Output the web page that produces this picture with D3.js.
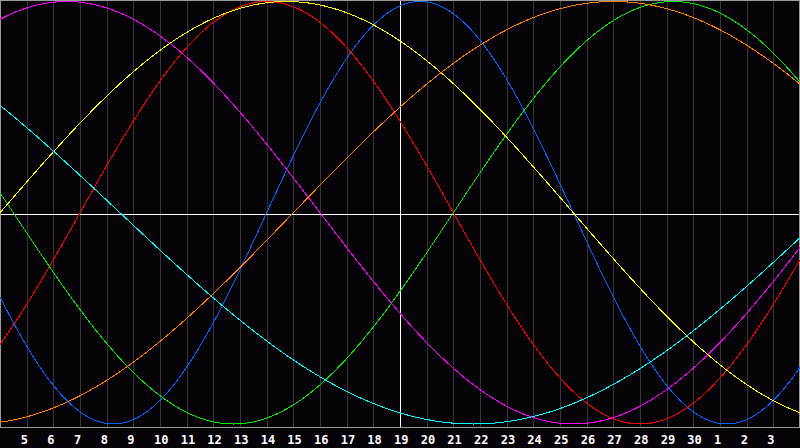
<!DOCTYPE html>
<html>
<head>
<meta charset="utf-8">
<script src="https://cdn.jsdelivr.net/npm/d3@7/dist/d3.min.js"></script>
<style>
  html, body { margin: 0; padding: 0; background: #050308; }
  svg { display: block; }
</style>
</head>
<body>
<svg id="chart" width="800" height="448"></svg>
<script>
// Day labels at the gridlines (offset 1..29 days from left edge)
const dayLabels = ["5","6","7","8","9","10","11","12","13","14","15","16","17","18","19","20","21","22","23","24","25","26","27","28","29","30","1","2","3"];
const todayLabel = "19";

// Cycle series: period in days, and cycle day at the left edge of the chart
const seriesNames   = ["Physical","Emotional","Intellectual","Intuitive","Aesthetic","Awareness","Spiritual"];
const seriesPeriods = [23, 28, 33, 38, 43, 48, 53];
const seriesPhase   = [13, 25, 16, 7, 0, 37, 22];
const seriesColors  = ["#0066ff","#ff0000","#00ee00","#ff00ff","#ffff00","#ff8000","#00ffff"];

const totalDays = 30;
const W = 800, H = 448;
const svg = d3.select("#chart");

svg.append("rect").attr("x",0).attr("y",0).attr("width",W).attr("height",H).attr("fill","#050308");

const x = d3.scaleLinear().domain([0, totalDays]).range([0, 800]);
const y = d3.scaleLinear().domain([-1, 1]).range([424, 1.5]);

// vertical grid lines
const gridIdx = dayLabels.map((d,i)=>i+1);
svg.append("g").selectAll("line").data(gridIdx).join("line")
  .attr("x1", d => Math.round(x(d)) + 0.5).attr("x2", d => Math.round(x(d)) + 0.5)
  .attr("y1", 0).attr("y2", 428)
  .attr("stroke", "#363636").attr("stroke-width", 1)
  .attr("shape-rendering","crispEdges");

// frame
svg.append("rect").attr("x",0.5).attr("y",0.5).attr("width",799).attr("height",427)
  .attr("fill","none").attr("stroke","#9a9a9a").attr("stroke-width",1)
  .attr("shape-rendering","crispEdges");

// zero line
svg.append("line").attr("x1",1).attr("x2",799)
  .attr("y1", 214.5).attr("y2", 214.5)
  .attr("stroke","#ffffff").attr("stroke-width",1).attr("shape-rendering","crispEdges");

// today line
const todayIdx = dayLabels.indexOf(todayLabel) + 1;
svg.append("line").attr("x1", Math.round(x(todayIdx))+0.5).attr("x2", Math.round(x(todayIdx))+0.5)
  .attr("y1", 1).attr("y2", 427)
  .attr("stroke","#ffffff").attr("stroke-width",1).attr("shape-rendering","crispEdges");

// curves
const samples = d3.range(0, totalDays + 0.001, 0.02);
const line = d3.line().x(d => x(d.t)).y(d => y(d.v));
seriesPeriods.forEach((p, i) => {
  const pts = samples.map(t => ({t, v: Math.sin(2 * Math.PI * (seriesPhase[i] + t) / p)}));
  svg.append("path")
    .attr("d", line(pts))
    .attr("fill","none")
    .attr("stroke", seriesColors[i])
    .attr("stroke-width", 1)
    .attr("shape-rendering","crispEdges")
    .append("title").text(seriesNames[i]);
});

// x labels
svg.append("g").selectAll("text").data(dayLabels).join("text")
  .attr("x", (d,i) => x(i+1) - 6)
  .attr("y", 444)
  .attr("fill", "#ffffff")
  .attr("font-family", "'DejaVu Sans Mono', monospace")
  .attr("font-weight", "bold")
  .attr("font-size", "12px")
  .text(d => d);
</script>
</body>
</html>
